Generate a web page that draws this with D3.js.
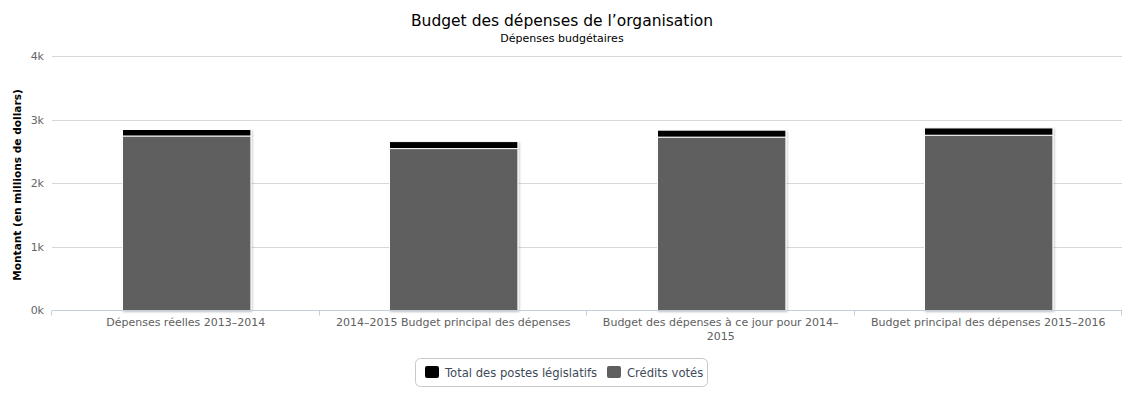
<!DOCTYPE html>
<html>
<head>
<meta charset="utf-8">
<script src="https://cdn.jsdelivr.net/npm/d3@7"></script>
<style>
  body { margin: 0; background: #fff; }
  svg { font-family: "DejaVu Sans", "Lucida Grande", Arial, sans-serif; }
</style>
</head>
<body>
<div id="container"></div>
<script>
// data
const categories = [
  ["Dépenses réelles 2013–2014"],
  ["2014–2015 Budget principal des dépenses"],
  ["Budget des dépenses à ce jour pour 2014–", "2015"],
  ["Budget principal des dépenses 2015–2016"],
]
const seriesNames = ["Total des postes législatifs", "Crédits votés"]
const creditsVotes = [2748, 2550, 2730, 2760]
const postesLegislatifs = [102, 110, 110, 115]
const yTicks = [0, 1000, 2000, 3000, 4000]
const colors = ["#000000", "#5f5f5f"]

const width = 1129, height = 396
const margin = { top: 56, right: 7, bottom: 86, left: 52 }

const svg = d3.select("#container")
	.append("svg")
	.attr("width", width)
	.attr("height", height)

const defs = svg.append("defs")
const shadow = defs.append("filter").attr("id", "shadow")
	.attr("x", "-5%").attr("y", "-5%").attr("width", "115%").attr("height", "115%")
shadow.append("feDropShadow")
	.attr("dx", 1).attr("dy", 1).attr("stdDeviation", 1)
	.attr("flood-color", "#000").attr("flood-opacity", 0.25)

const x = d3.scaleBand()
	.domain(d3.range(categories.length))
	.range([margin.left, width - margin.right])
	.paddingInner(0).paddingOuter(0)

const y = d3.scaleLinear()
	.domain([0, 4000])
	.range([height - margin.bottom, margin.top])

// titles
svg.append("text")
	.attr("x", 562).attr("y", 26)
	.attr("text-anchor", "middle")
	.style("font-size", "15.5px").style("fill", "#000")
	.text("Budget des dépenses de l’organisation")

svg.append("text")
	.attr("x", 562).attr("y", 42)
	.attr("text-anchor", "middle")
	.style("font-size", "11px").style("fill", "#000")
	.text("Dépenses budgétaires")

// grid
svg.append("g")
	.selectAll("line")
	.data(yTicks.slice(1))
	.join("line")
	.attr("x1", margin.left).attr("x2", width - margin.right)
	.attr("y1", d => Math.round(y(d)) + 0.5).attr("y2", d => Math.round(y(d)) + 0.5)
	.attr("stroke", "#d8d8d8")

// y axis labels
svg.append("g")
	.selectAll("text")
	.data(yTicks)
	.join("text")
	.attr("x", 44).attr("y", d => y(d) + 4)
	.attr("text-anchor", "end")
	.style("font-size", "11px").style("fill", "#666")
	.text(d => d3.format("d")(d / 1000) + "k")

svg.append("text")
	.attr("transform", `translate(21,${(margin.top + height - margin.bottom) / 2 + 2}) rotate(-90)`)
	.attr("text-anchor", "middle")
	.style("font-size", "10.6px").style("font-weight", "bold").style("fill", "#000")
	.text("Montant (en millions de dollars)")

// bars
const stacked = d3.stack().keys([1, 0])(
	categories.map((c, i) => ({ 0: postesLegislatifs[i], 1: creditsVotes[i] }))
)
const barW = x.bandwidth() * 0.48

svg.append("g")
	.selectAll("g")
	.data(stacked)
	.join("g")
	.attr("fill", d => colors[d.key])
	.selectAll("rect")
	.data(d => d)
	.join("rect")
	.attr("x", (d, i) => Math.round(x(i) + (x.bandwidth() - barW) / 2) + 0.5)
	.attr("width", barW)
	.attr("y", d => y(d[1]) + 0.5)
	.attr("height", d => y(d[0]) - y(d[1]))
	.attr("stroke", "#fff")
	.attr("filter", "url(#shadow)")

// x axis
const axisY = Math.round(y(0)) + 0.5
svg.append("line")
	.attr("x1", margin.left).attr("x2", width - margin.right)
	.attr("y1", axisY).attr("y2", axisY)
	.attr("stroke", "#c0d0e0")

svg.append("g")
	.selectAll("line")
	.data(d3.range(categories.length + 1))
	.join("line")
	.attr("x1", i => Math.round(margin.left + i * x.step()) - 0.5)
	.attr("x2", i => Math.round(margin.left + i * x.step()) - 0.5)
	.attr("y1", axisY).attr("y2", axisY + 5)
	.attr("stroke", "#c0d0e0")

svg.append("g")
	.selectAll("text")
	.data(categories)
	.join("text")
	.attr("x", (d, i) => x(i) + x.bandwidth() / 2)
	.attr("y", axisY + 15)
	.attr("text-anchor", "middle")
	.style("font-size", "11px").style("fill", "#606060")
	.selectAll("tspan")
	.data(d => d)
	.join("tspan")
	.attr("x", function () { return this.parentNode.getAttribute("x") })
	.attr("dy", (d, i) => i ? 14 : 0)
	.text(d => d)

// legend
const legend = svg.append("g")
legend.append("rect")
	.attr("x", 415.5).attr("y", 358.5)
	.attr("width", 292).attr("height", 28)
	.attr("rx", 5)
	.attr("fill", "#fff").attr("stroke", "#c8c8c8")

const legendX = [425, 607]
const items = legend.selectAll("g")
	.data(seriesNames)
	.join("g")
	.attr("transform", (d, i) => `translate(${legendX[i]},366)`)
items.append("rect")
	.attr("width", 14).attr("height", 12).attr("rx", 2)
	.attr("fill", (d, i) => colors[i])
items.append("text")
	.attr("x", 20).attr("y", 11)
	.style("font-size", "11.6px").style("fill", "#3e4a59")
	.text(d => d)
</script>
</body>
</html>
